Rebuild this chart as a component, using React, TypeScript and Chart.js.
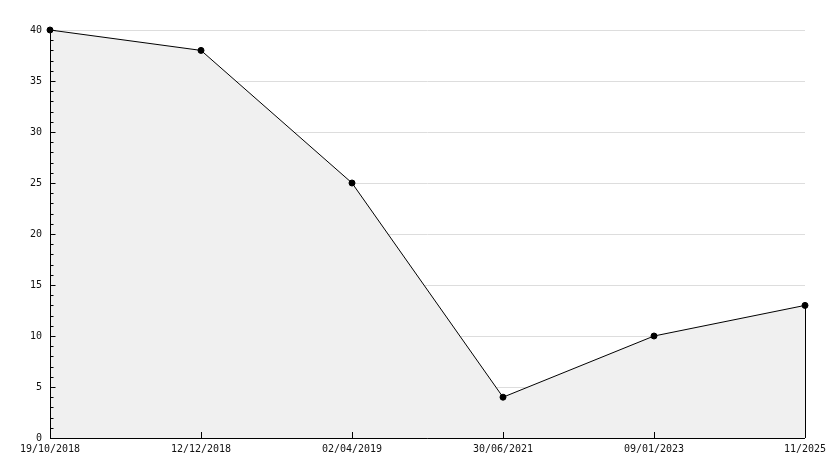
import React, { useEffect, useRef } from "react";
import { Chart, registerables } from "chart.js";

Chart.register(...registerables);

const categories = ["19/10/2018", "12/12/2018", "02/04/2019", "30/06/2021", "09/01/2023", "11/2025"];
const values = [40, 38, 25, 4, 10, 13];
const yMin = 0;
const yMax = 40;
const yStep = 5;
const yMinorStep = 1;

const FONT = "'DejaVu Sans Mono', monospace";

const axisPlugin = {
  id: "axisTicks",
  afterDatasetsDraw(chart: any) {
    const { ctx, chartArea, scales } = chart;
    const y = scales.y;
    const x = scales.x;
    ctx.save();
    ctx.strokeStyle = "#000";
    ctx.lineWidth = 1;
    ctx.beginPath();
    ctx.moveTo(Math.round(chartArea.left) + 0.5, chartArea.top);
    ctx.lineTo(Math.round(chartArea.left) + 0.5, Math.round(chartArea.bottom) + 0.5);
    ctx.lineTo(chartArea.right, Math.round(chartArea.bottom) + 0.5);
    for (let v = yMin; v <= yMax; v += yMinorStep) {
      const py = Math.round(y.getPixelForValue(v)) + 0.5;
      const len = v % yStep === 0 ? 5 : 3;
      ctx.moveTo(chartArea.left, py);
      ctx.lineTo(chartArea.left + len + 0.5, py);
    }
    for (let i = 0; i < categories.length; i++) {
      const px = Math.round(x.getPixelForValue(i)) + 0.5;
      ctx.moveTo(px, chartArea.bottom);
      ctx.lineTo(px, chartArea.bottom - 6);
    }
    const last = values.length - 1;
    const lx = Math.round(x.getPixelForValue(last)) + 0.5;
    ctx.moveTo(lx, y.getPixelForValue(values[last]));
    ctx.lineTo(lx, chartArea.bottom);
    ctx.stroke();
    ctx.restore();
  },
};

export default function App() {
  const ref = useRef<HTMLCanvasElement | null>(null);
  useEffect(() => {
    if (!ref.current) return;
    const chart = new Chart(ref.current, {
      type: "line",
      data: {
        labels: categories,
        datasets: [
          {
            data: values,
            borderColor: "#000",
            borderWidth: 1,
            backgroundColor: "#f0f0f0",
            fill: "origin",
            pointRadius: 3,
            pointBackgroundColor: "#000",
            pointBorderColor: "#000",
            pointBorderWidth: 1,
            tension: 0,
            clip: false as any,
          },
        ],
      },
      options: {
        animation: false,
        responsive: false,
        maintainAspectRatio: false,
        layout: { padding: { top: 30, right: 29, left: 0, bottom: 0 } },
        plugins: { legend: { display: false }, tooltip: { enabled: false } },
        scales: {
          x: {
            type: "category",
            offset: false,
            grid: { display: false, drawTicks: false },
            border: { display: false },
            ticks: {
              autoSkip: false,
              maxRotation: 0,
              padding: 5,
              color: "#111",
              font: { family: FONT, size: 10 },
            },
            afterFit: (s: any) => {
              s.height = 30;
            },
          },
          y: {
            min: yMin,
            max: yMax,
            grid: { color: "#dddddd", drawTicks: false, lineWidth: 1 },
            border: { display: false },
            ticks: {
              stepSize: yStep,
              padding: 8,
              color: "#111",
              font: { family: FONT, size: 10 },
            },
            afterFit: (s: any) => {
              s.width = 50;
            },
          },
        },
      },
      plugins: [axisPlugin],
    });
    return () => chart.destroy();
  }, []);
  return (
    <div style={{ position: "fixed", left: 0, top: 0, width: 834, height: 468, background: "#fff" }}>
      <canvas ref={ref} width={834} height={468} style={{ width: 834, height: 468, display: "block" }} />
    </div>
  );
}
